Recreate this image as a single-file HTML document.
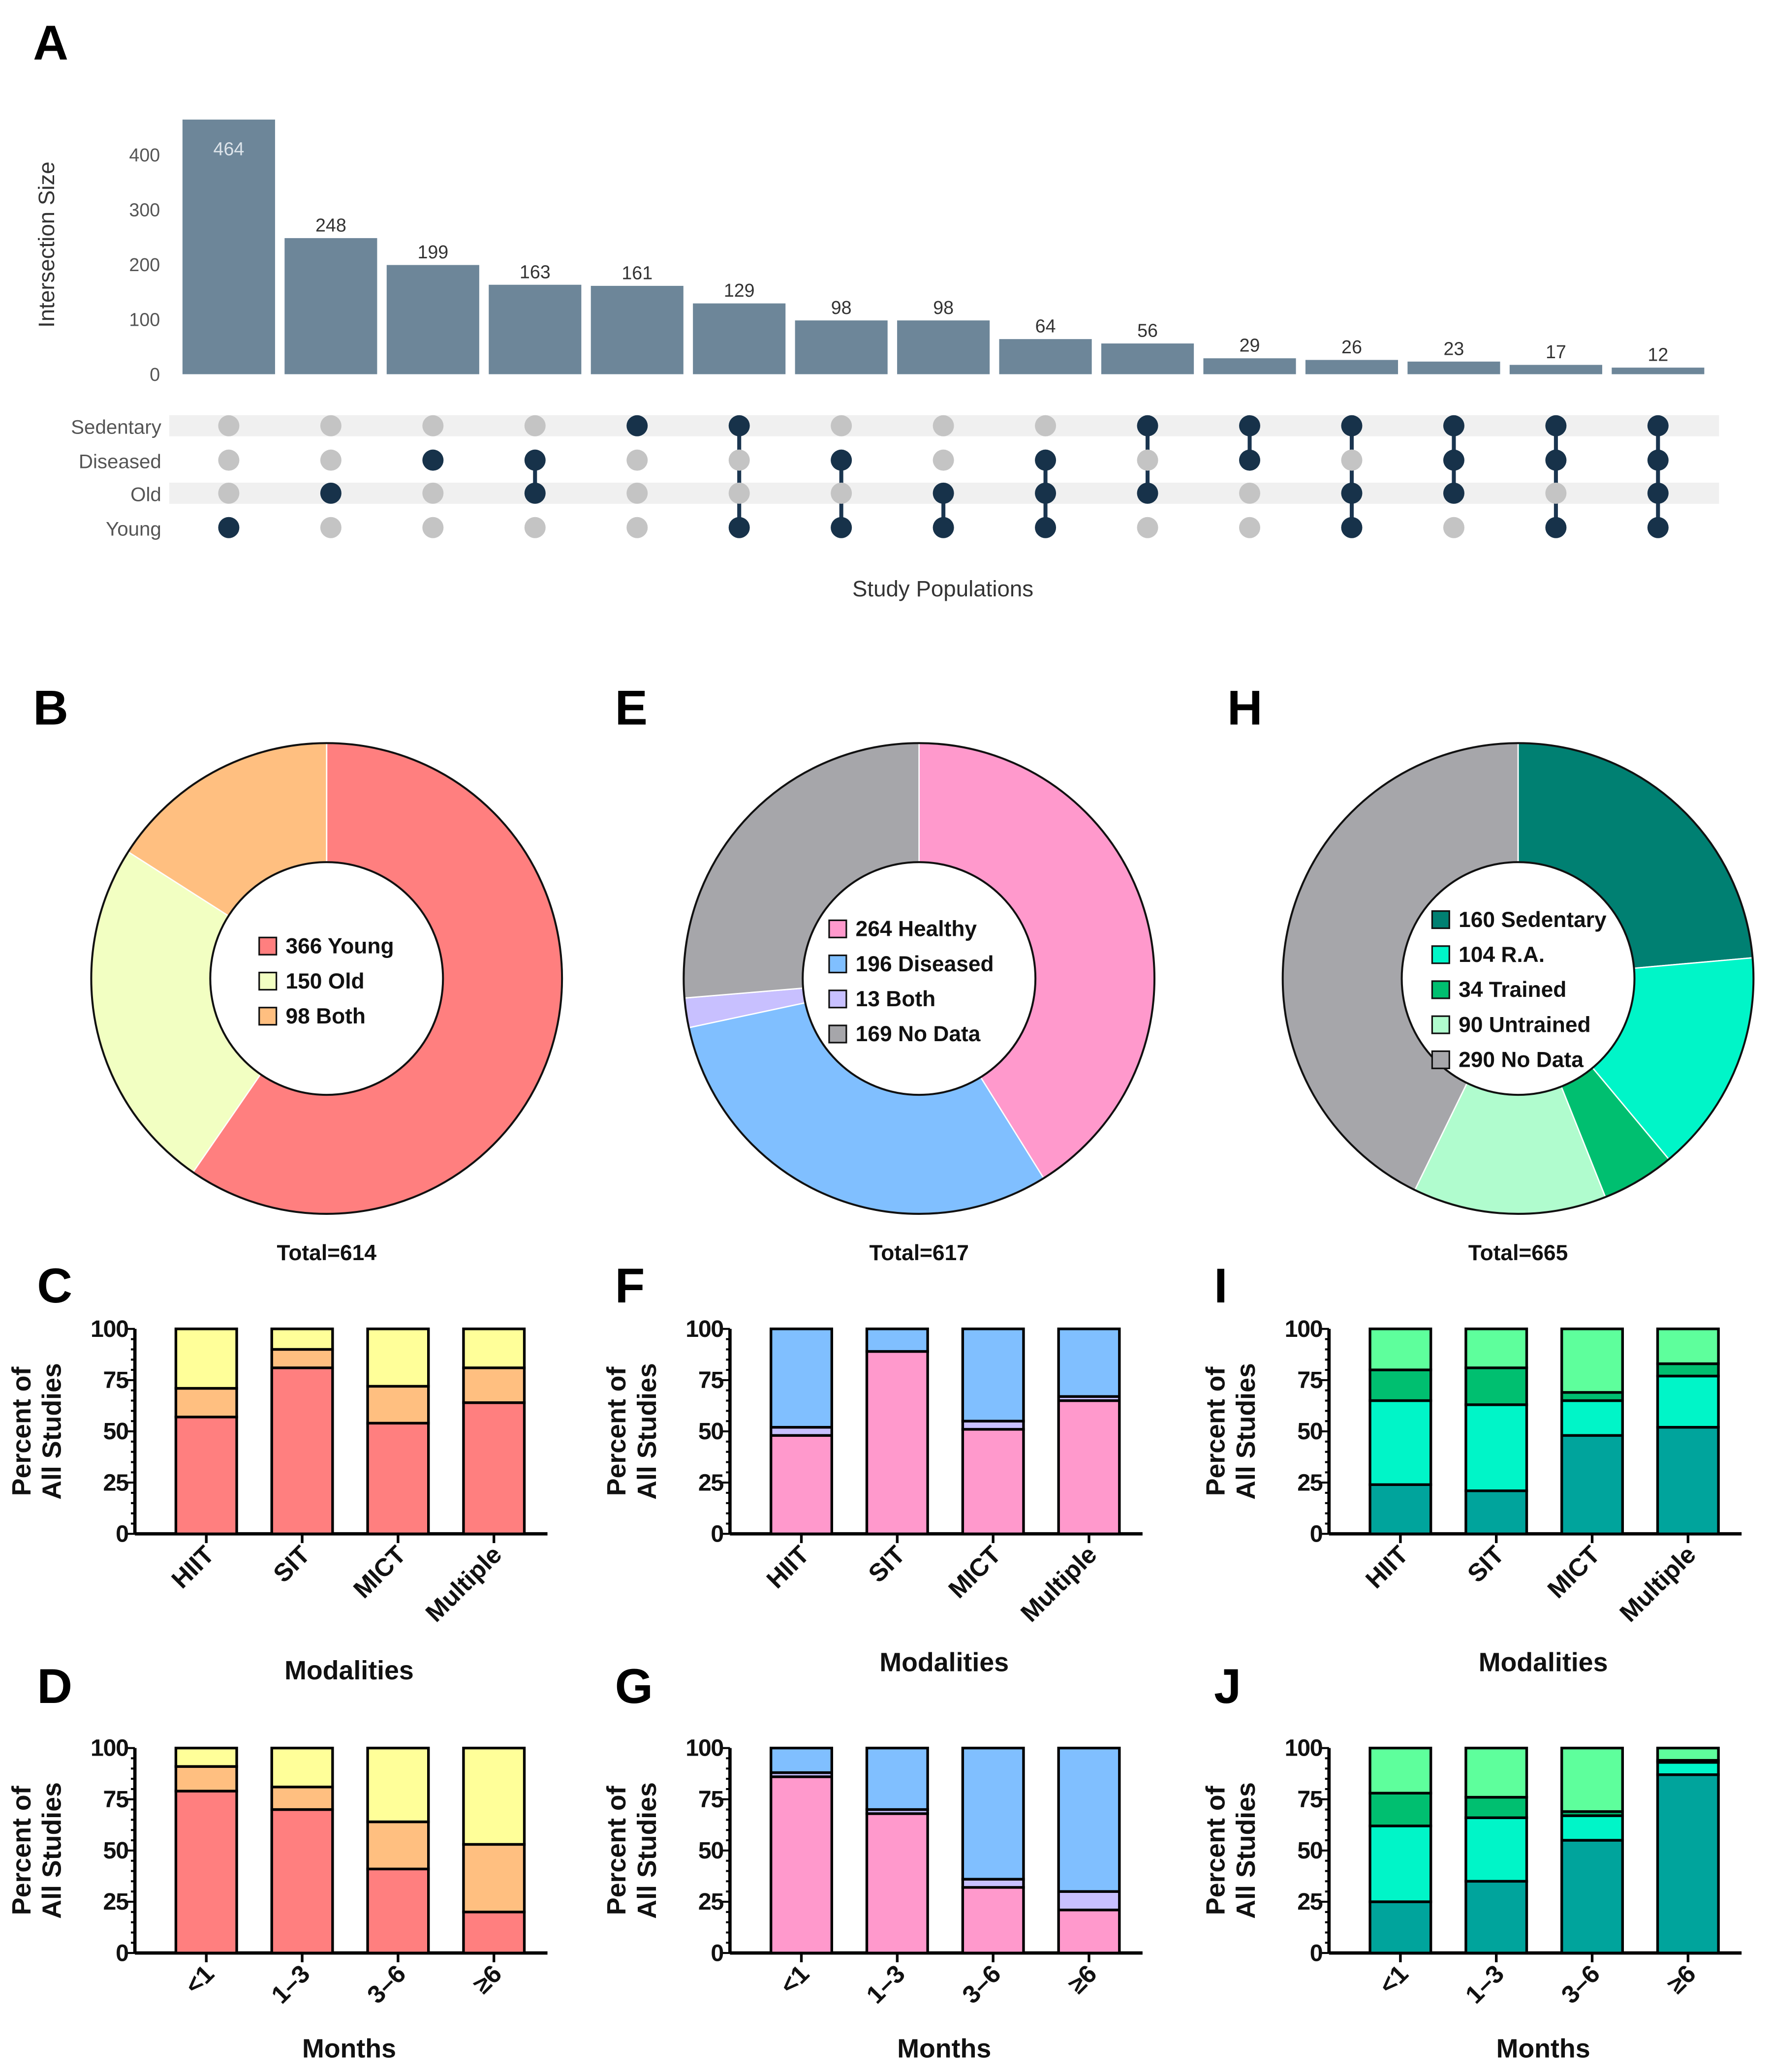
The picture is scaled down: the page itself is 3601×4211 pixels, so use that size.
<!DOCTYPE html>
<html><head><meta charset="utf-8"><style>
html,body{margin:0;padding:0;background:#fff;}
svg{display:block;font-family:"Liberation Sans",Arial,sans-serif;}
</style></head><body>
<svg id="fig" width="3601" height="4211" viewBox="0 0 1340 1567" xmlns="http://www.w3.org/2000/svg">
<g id="root"></g>
</svg>
<script>
// ---- Panel A data ----
const upsetValues = [464,248,199,163,161,129,98,98,64,56,29,26,23,17,12];
const upsetSets = ["Sedentary","Diseased","Old","Young"];
const upsetMembership = [
 [0,0,0,1],[0,0,1,0],[0,1,0,0],[0,1,1,0],[1,0,0,0],[1,0,0,1],[0,1,0,1],[0,0,1,1],
 [0,1,1,1],[1,0,1,0],[1,1,0,0],[1,0,1,1],[1,1,1,0],[1,1,0,1],[1,1,1,1]];
const upsetTicks = [0,100,200,300,400];
// ---- Donut data ----
const donutBLabels = ["Young","Old","Both"];
const donutBValues = [366,150,98];
const donutELabels = ["Healthy","Diseased","Both","No Data"];
const donutEValues = [264,196,13,169];
const donutHLabels = ["Sedentary","R.A.","Trained","Untrained","No Data"];
const donutHValues = [160,104,34,90,290];
const donutHLegendLabels = ["160 Sedentary","104 R.A.","34  Trained","90 Untrained","290 No Data"];
// ---- Stacked bar data ----
const modalities = ["HIIT","SIT","MICT","Multiple"];
const months = ["<1","1\u20133","3\u20136","\u22656"];
const pctTicks = [0,25,50,75,100];
const barC = [[57,14,29],[81,9,10],[54,18,28],[64,17,19]];
const barD = [[79,12,9],[70,11,19],[41,23,36],[20,33,47]];
const barF = [[48,4,48],[89,0,11],[51,4,45],[65,2,33]];
const barG = [[86,2,12],[68,2,30],[32,4,64],[21,9,70]];
const barI = [[24,41,15,20],[21,42,18,19],[48,17,4,31],[52,25,6,17]];
const barJ = [[25,37,16,22],[35,31,10,24],[55,12,2,31],[87,6,1,6]];

const NS="http://www.w3.org/2000/svg";
const root=document.getElementById('root');
function el(tag,attrs,parent,text){const e=document.createElementNS(NS,tag);for(const k in attrs)e.setAttribute(k,attrs[k]);if(text!==undefined)e.textContent=text;(parent||root).appendChild(e);return e;}

// Panel letters
[["A",25,45],["B",25,548],["E",465,548],["H",928,548],["C",28,985],["F",465,985],["I",918,985],["D",28,1288],["G",465,1288],["J",918,1288]].forEach(p=>{
 const t=el('text',{x:p[1],y:p[2],'font-size':37,'font-weight':'bold',fill:'#000'},root,p[0]);
 
 
});

// ---- Panel A ----
const gA=el('g',{});


const aY0=283, aPer=41.5/100;
const yA=v=>aY0-v*aPer;
const xA=i=>173+i*77.2;
upsetTicks.forEach(t=>{const tx=el('text',{x:121,y:yA(t)+5,'font-size':14,fill:'#555','text-anchor':'end'},gA,t);
 });
const yt=el('text',{transform:'translate(41,185) rotate(-90)','font-size':17,fill:'#333','text-anchor':'middle'},gA,'Intersection Size');

upsetValues.forEach((v,i)=>{
 const r=el('rect',{x:xA(i)-35,y:yA(v),width:70,height:v*aPer,fill:'#6d8699'},gA);
 
 const inside=i===0;
 const t=el('text',{x:xA(i),y:inside?yA(v)+27:yA(v)-5,'font-size':14,fill:inside?'#dde4ea':'#333','text-anchor':'middle'},gA,v);
 
});
const rowY=[322,348,373,399];
[0,2].forEach(r=>{const s=el('rect',{x:128,y:rowY[r]-8,width:1172,height:16,fill:'#f0f0f0'},gA);
 });
upsetSets.forEach((s,r)=>{const t=el('text',{x:122,y:rowY[r]+6,'font-size':15,fill:'#555','text-anchor':'end'},gA,s);
 });
upsetMembership.forEach((m,i)=>{
 const on=[];m.forEach((v,r)=>{if(v)on.push(r);});
 if(on.length>1){const l=el('line',{x1:xA(i),x2:xA(i),y1:rowY[on[0]],y2:rowY[on[on.length-1]],stroke:'#1a3550','stroke-width':3},gA);
  }
 m.forEach((v,r)=>{const c=el('circle',{cx:xA(i),cy:rowY[r],r:8,fill:v?'#17324a':'#c4c4c4'},gA);
  });
});
const xt=el('text',{x:713,y:451,'font-size':17,fill:'#333','text-anchor':'middle'},gA,'Study Populations');


// ---- Donuts ----
function donut(name,cx,cy,vals,colors,legend,total,legX,legY){
 const g=el('g',{});
 
 const R=178,r=88,sum=vals.reduce((a,b)=>a+b,0);let a0=0;
 vals.forEach((v,i)=>{
  const a1=a0+v/sum*2*Math.PI;
  const p=(a,rad)=>[cx+rad*Math.sin(a),cy-rad*Math.cos(a)];
  const [x0,y0]=p(a0,R),[x1,y1]=p(a1,R),[x2,y2]=p(a1,r),[x3,y3]=p(a0,r);
  const lg=(a1-a0)>Math.PI?1:0;
  const path=el('path',{d:`M${x0},${y0}A${R},${R} 0 ${lg} 1 ${x1},${y1}L${x2},${y2}A${r},${r} 0 ${lg} 0 ${x3},${y3}Z`,fill:colors[i],stroke:'#fff','stroke-width':1},g);
  
  a0=a1;
 });
 el('circle',{cx:cx,cy:cy,r:R,fill:'none',stroke:'#111','stroke-width':1.5},g);
 el('circle',{cx:cx,cy:cy,r:r,fill:'#fff',stroke:'#111','stroke-width':1.5},g);
 legend.forEach((t,i)=>{
  const y=legY+i*26.5;
  const s=el('rect',{x:legX,y:y-12,width:13,height:13,fill:colors[i],stroke:'#111','stroke-width':1.2},g);
  
  const tx=el('text',{x:legX+20,y:y,'font-size':16.5,'font-weight':'bold',fill:'#111'},g,t);
  
 });
 const tt=el('text',{x:cx,y:953,'font-size':16.5,'font-weight':'bold',fill:'#111','text-anchor':'middle'},g,'Total='+total);
 
}
donut('donut-age',247,740,donutBValues,['#ff7f7f','#f2ffc2','#ffbf80'],donutBLabels.map((l,i)=>donutBValues[i]+' '+l),614,196,721);
donut('donut-health',695,740,donutEValues,['#ff99cc','#80bfff','#c8c0ff','#a6a6aa'],donutELabels.map((l,i)=>donutEValues[i]+' '+l),617,627,708);
donut('donut-activity',1148,740,donutHValues,['#008072','#00f5c8','#00bf70','#b0fcce','#a6a6aa'],donutHLegendLabels,665,1083,701);

// ---- Stacked bars ----
function stacked(name,ox,y0,data,cats,colors,xtitle,titleY){
 const g=el('g',{});
 
 const h=155, yS=v=>y0-v/100*h, xS=i=>ox+54+i*72.5;
 const axX=ox;
 el('line',{x1:axX,x2:axX,y1:yS(100),y2:y0,stroke:'#000','stroke-width':2.5},g);
 el('line',{x1:axX,x2:ox+312,y1:y0,y2:y0,stroke:'#000','stroke-width':2.5},g);
 for(let v=0;v<=100;v+=5){el('line',{x1:axX-(v%25===0?6:3),x2:axX,y1:yS(v),y2:yS(v),stroke:'#000','stroke-width':1.5},g);}
 pctTicks.forEach(t=>{const tx=el('text',{x:axX-5,y:yS(t)+6,'font-size':18,'font-weight':'bold',fill:'#111','text-anchor':'end','letter-spacing':'-0.5'},g,t);
  });
 const yt=el('text',{transform:`translate(${ox-79},${y0-h/2}) rotate(-90)`,'font-size':20,'font-weight':'bold',fill:'#111','text-anchor':'middle'},g);
 
 el('tspan',{x:0,dy:0},yt,'Percent of');el('tspan',{x:0,dy:23},yt,'All Studies');
 data.forEach((stack,i)=>{
  let acc=0;
  stack.forEach((v,j)=>{
   const r=el('rect',{x:xS(i)-23,y:yS(acc+v),width:46,height:v/100*h,fill:colors[j],stroke:'#000','stroke-width':2},g);
   
   acc+=v;
  });
  el('line',{x1:xS(i),x2:xS(i),y1:y0,y2:y0+7,stroke:'#000','stroke-width':2},g);
  const tx=el('text',{transform:`translate(${xS(i)+7},${y0+17}) rotate(-45)`,'font-size':19,'font-weight':'bold',fill:'#111','text-anchor':'end'},g,cats[i]);
  
 });
 const t=el('text',{x:ox+162,y:titleY,'font-size':20,'font-weight':'bold',fill:'#111','text-anchor':'middle'},g,xtitle);
 
}
const red=['#ff7f7f','#ffbf80','#ffff99'];
const pink=['#ff99cc','#c8c0ff','#80bfff'];
const teal=['#00a49c','#00f5c8','#00bf70','#5eff9c'];
stacked('bar-chart-c',102,1160,barC,modalities,red,'Modalities',1270);
stacked('bar-chart-d',102,1477,barD,months,red,'Months',1556);
stacked('bar-chart-f',552,1160,barF,modalities,pink,'Modalities',1264);
stacked('bar-chart-g',552,1477,barG,months,pink,'Months',1556);
stacked('bar-chart-i',1005,1160,barI,modalities,teal,'Modalities',1264);
stacked('bar-chart-j',1005,1477,barJ,months,teal,'Months',1556);
</script>
</body></html>
